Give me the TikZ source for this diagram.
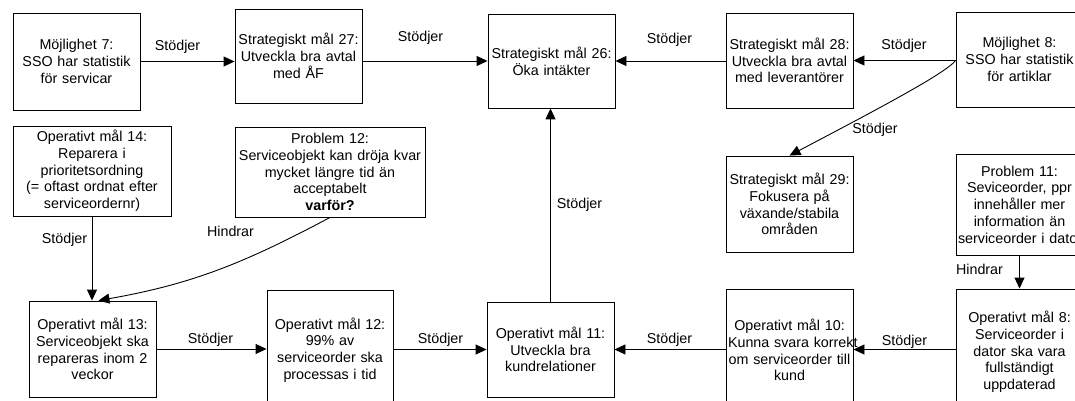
\documentclass[tikz,border=0pt]{standalone}
\usepackage{fontspec}
\setmainfont{Liberation Sans}
\usetikzlibrary{arrows.meta}

\begin{document}
\begin{tikzpicture}[x=1pt,y=-1pt,>={Triangle[length=11pt,width=10pt]},
  box/.style={draw,line width=0.9pt,align=center,inner xsep=2pt,inner ysep=2pt,
    text width=123pt,minimum height=95pt,font=\fontsize{14.3}{16.7}\selectfont},
  lbl/.style={inner sep=1pt,font=\fontsize{14.3}{16.7}\selectfont},
  con/.style={line width=0.9pt,->}]
\useasboundingbox (0,0) rectangle (1075,401);
\clip (0,0) rectangle (1075,401);
\fill[white] (0,0) rectangle (1075,401);
\node[box,minimum height=97pt] (m7) at (76.5,61.5) {Möjlighet 7:\\SSO har statistik\\för servicar};
\node[box,minimum height=94pt] (s27) at (298.5,56) {\mbox{Strategiskt mål 27:}\\\mbox{Utveckla bra avtal}\\med ÅF};
\node[box,minimum height=94pt] (s26) at (551.5,61) {\mbox{Strategiskt mål 26:}\\Öka intäkter};
\node[box] (s28) at (789.5,60.5) {\mbox{Strategiskt mål 28:}\\\mbox{Utveckla bra avtal}\\med leverantörer};
\node[box] (m8) at (1019.5,59.5) {Möjlighet 8:\\\mbox{SSO har statistik}\\för artiklar};
\node[box,text width=154pt,minimum height=90pt] (o14) at (92,171) {Operativt mål 14:\\Reparera i\\prioritetsordning\\\mbox{(= oftast ordnat efter}\\serviceordernr)};
\node[box,text width=186pt,minimum height=90pt] (p12) at (330,172) {Problem 12:\\\mbox{Serviceobjekt kan dröja kvar}\\mycket längre tid än\\acceptabelt\\\textbf{varför?}};
\node[box,minimum height=96pt] (s29) at (789.5,204) {\mbox{Strategiskt mål 29:}\\Fokusera på\\växande/stabila\\områden};
\node[box,minimum height=101pt] (p11) at (1019.5,204.5) {Problem 11:\\\mbox{Seviceorder, ppr}\\innehåller mer\\information än\\\mbox{serviceorder i dator}};
\node[box,minimum height=96pt] (o13) at (92.5,349) {Operativt mål 13:\\\mbox{Serviceobjekt ska}\\\mbox{repareras inom 2}\\veckor};
\node[box,text width=122pt,minimum height=120pt] (o12) at (330,350) {Operativt mål 12:\\99\% av\\\mbox{serviceorder ska}\\processas i tid};
\node[box] (o11) at (550.5,349.5) {Operativt mål 11:\\Utveckla bra\\kundrelationer};
\node[box,minimum height=122pt] (o10) at (789.5,350) {Operativt mål 10:\\\mbox{Kunna svara korrekt}\\\mbox{om serviceorder till}\\kund};
\node[box,minimum height=126pt] (o8) at (1019.5,352) {Operativt mål 8:\\Serviceorder i\\\mbox{dator ska vara}\\fullständigt\\uppdaterad};

\node[lbl] (t1) at (177.5,47) {Stödjer};
\node[lbl] (t2) at (420.5,38) {Stödjer};
\node[lbl] (t3) at (669.5,40) {Stödjer};
\node[lbl] (t4) at (904,46) {Stödjer};
\node[lbl] (t5) at (875,130) {Stödjer};
\node[lbl] (t6) at (579.5,205) {Stödjer};
\node[lbl] (t7) at (64.5,240) {Stödjer};
\node[lbl] (t8) at (230.5,231) {Hindrar};
\node[lbl] (t9) at (210.5,340) {Stödjer};
\node[lbl] (t10) at (440.5,340) {Stödjer};
\node[lbl] (t11) at (669.5,340) {Stödjer};
\node[lbl] (t12) at (904.5,342) {Stödjer};
\node[lbl] (t13) at (979.5,269) {Hindrar};

\draw[con] (m7.east) -- (m7.east -| s27.west);
\draw[con] (s27.east |- s26.west) -- (s26.west);
\draw[con] (s28.west |- s26.east) -- (s26.east);
\draw[con] (m8.west |- s28.east) -- (s28.east);
\draw[con] (m8.west |- s28.east) .. controls (946,73) and (880,108) .. (s29.north);
\draw[con] (o11.north) -- (o11.north |- s26.south);
\draw[con] (o14.south) -- (o14.south |- o13.north);
\draw[con] (p12.south) to[out=208,in=10] ([xshift=6pt]o13.north);
\draw[con] (o13.east) -- (o13.east -| o12.west);
\draw[con] (o12.east |- o11.west) -- (o11.west);
\draw[con] (o10.west |- o11.east) -- (o11.east);
\draw[con] (o8.west |- o11.east) -- (o10.east |- o11.east);
\draw[con] (p11.south) -- (o8.north);
\end{tikzpicture}
\end{document}
